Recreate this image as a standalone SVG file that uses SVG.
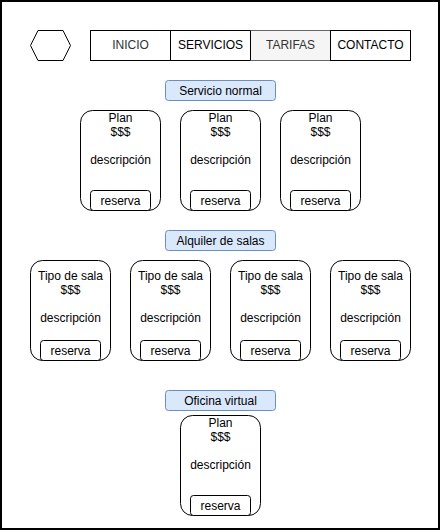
<svg xmlns="http://www.w3.org/2000/svg" width="441" height="531" viewBox="0 0 441 531">
<style>
text{font-family:"Liberation Sans",Arial,sans-serif;font-size:12px;fill:#000;text-anchor:middle}
.box{fill:#fff;stroke:#000;stroke-width:1}
.card{fill:#fff;stroke:#000;stroke-width:1}
.btn{fill:#fff;stroke:#000;stroke-width:1}
.lbl{fill:#dae8fc;stroke:#6c8ebf;stroke-width:1}
.grey{fill:#333}
</style>
<rect x="0" y="0" width="441" height="531" fill="#fff"/>
<g id="frame"><rect x="1" y="1" width="438" height="528" fill="none" stroke="#000" stroke-width="2"/></g>
<g id="logo"><polygon class="box" points="30.5,45.5 38,30.5 63,30.5 70.5,45.5 63,60.5 38,60.5"/></g>
<g id="nav-inicio"><rect class="box" x="90.5" y="30.5" width="80" height="30"/><text x="130.5" y="49" class="grey">INICIO</text></g>
<g id="nav-servicios"><rect class="box" x="170.5" y="30.5" width="80" height="30"/><text x="210.5" y="49">SERVICIOS</text></g>
<g id="nav-tarifas"><rect x="250.5" y="30.5" width="80" height="30" fill="#f5f5f5" stroke="#666" stroke-width="1"/><text x="290.5" y="49" class="grey">TARIFAS</text></g>
<g id="nav-contacto"><rect class="box" x="330.5" y="30.5" width="80" height="30"/><text x="370.5" y="49">CONTACTO</text></g>
<line x1="250.5" y1="30.5" x2="250.5" y2="60.5" stroke="#000"/>
<line x1="330.5" y1="30.5" x2="330.5" y2="60.5" stroke="#000"/>

<g id="label-servicio-normal"><rect class="lbl" x="165.5" y="80.5" width="110" height="20" rx="3"/><text x="220.5" y="94.5">Servicio normal</text></g>

<g id="plan-1"><rect class="card" x="80.5" y="110.5" width="80" height="100" rx="12"/><text x="120.5" y="122">Plan</text><text x="120.5" y="136">$$$</text><text x="120.5" y="164">descripción</text><rect class="btn" x="90.5" y="190.5" width="60" height="20" rx="3"/><text x="120.5" y="204.5">reserva</text></g>
<g id="plan-2"><rect class="card" x="180.5" y="110.5" width="80" height="100" rx="12"/><text x="220.5" y="122">Plan</text><text x="220.5" y="136">$$$</text><text x="220.5" y="164">descripción</text><rect class="btn" x="190.5" y="190.5" width="60" height="20" rx="3"/><text x="220.5" y="204.5">reserva</text></g>
<g id="plan-3"><rect class="card" x="280.5" y="110.5" width="80" height="100" rx="12"/><text x="320.5" y="122">Plan</text><text x="320.5" y="136">$$$</text><text x="320.5" y="164">descripción</text><rect class="btn" x="290.5" y="190.5" width="60" height="20" rx="3"/><text x="320.5" y="204.5">reserva</text></g>

<g id="label-alquiler"><rect class="lbl" x="165.5" y="230.5" width="110" height="20" rx="3"/><text x="220.5" y="244.5">Alquiler de salas</text></g>

<g id="sala-1"><rect class="card" x="30.5" y="260.5" width="80" height="100" rx="12"/><text x="70.5" y="280">Tipo de sala</text><text x="70.5" y="294">$$$</text><text x="70.5" y="322">descripción</text><rect class="btn" x="40.5" y="340.5" width="60" height="20" rx="3"/><text x="70.5" y="354.5">reserva</text></g>
<g id="sala-2"><rect class="card" x="130.5" y="260.5" width="80" height="100" rx="12"/><text x="170.5" y="280">Tipo de sala</text><text x="170.5" y="294">$$$</text><text x="170.5" y="322">descripción</text><rect class="btn" x="140.5" y="340.5" width="60" height="20" rx="3"/><text x="170.5" y="354.5">reserva</text></g>
<g id="sala-3"><rect class="card" x="230.5" y="260.5" width="80" height="100" rx="12"/><text x="270.5" y="280">Tipo de sala</text><text x="270.5" y="294">$$$</text><text x="270.5" y="322">descripción</text><rect class="btn" x="240.5" y="340.5" width="60" height="20" rx="3"/><text x="270.5" y="354.5">reserva</text></g>
<g id="sala-4"><rect class="card" x="330.5" y="260.5" width="80" height="100" rx="12"/><text x="370.5" y="280">Tipo de sala</text><text x="370.5" y="294">$$$</text><text x="370.5" y="322">descripción</text><rect class="btn" x="340.5" y="340.5" width="60" height="20" rx="3"/><text x="370.5" y="354.5">reserva</text></g>

<g id="label-oficina"><rect class="lbl" x="165.5" y="390.5" width="110" height="20" rx="3"/><text x="220.5" y="404.5">Oficina virtual</text></g>

<g id="oficina-plan"><rect class="card" x="180.5" y="415.5" width="80" height="100" rx="12"/><text x="220.5" y="427">Plan</text><text x="220.5" y="441">$$$</text><text x="220.5" y="469">descripción</text><rect class="btn" x="190.5" y="495.5" width="60" height="20" rx="3"/><text x="220.5" y="509.5">reserva</text></g>

<g id="connectors"></g>
</svg>
